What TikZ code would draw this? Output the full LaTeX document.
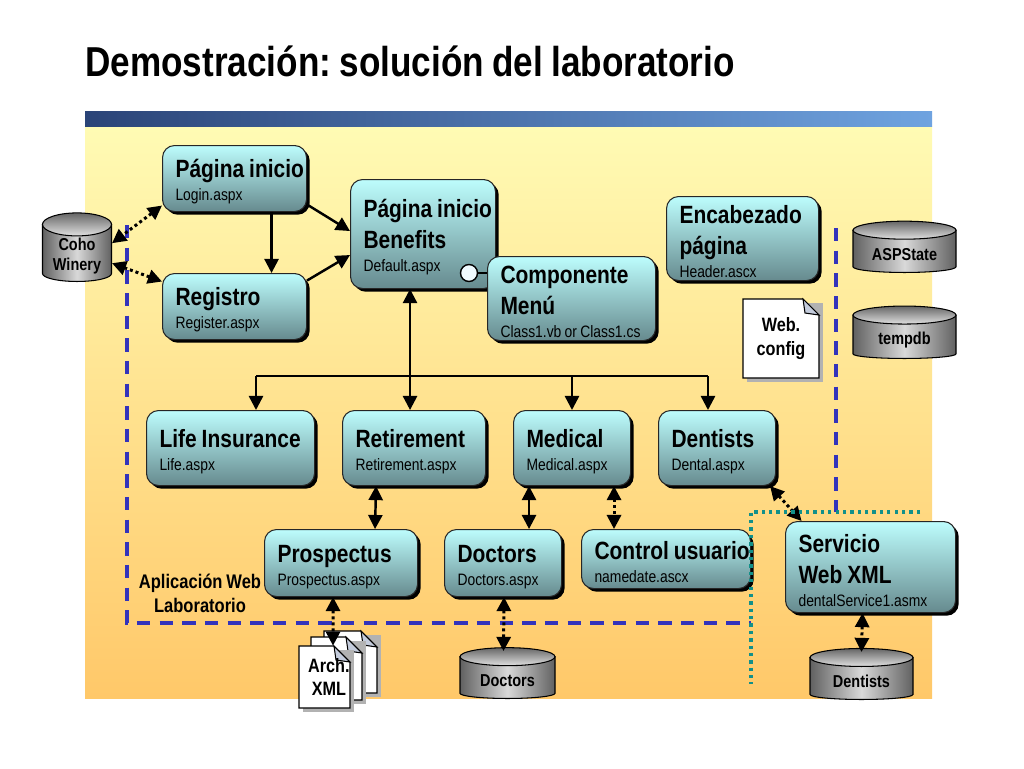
\documentclass[tikz,border=0pt]{standalone}
\usepackage{fontspec}
\setmainfont[FakeStretch=0.84,WordSpace=0.85]{Liberation Sans}
\frenchspacing
\usetikzlibrary{arrows.meta,calc,positioning,shadows,shapes.geometric}

\def\px{0.02cm}
\newcommand{\fname}[1]{\\[-4.6pt]{\fontsize{9.4}{17.6}\selectfont\mdseries #1}}

% sheet of paper with a folded corner, text on top
\newcommand{\docsheet}[6]{
  \fill[sheetshade] (#2+4,#3+4) rectangle (#2+#4+4,#3+#5+4);
  \draw[sheet] (#2,#3) -- (#2+#4-16,#3) -- (#2+#4,#3+16) -- (#2+#4,#3+#5) -- (#2,#3+#5) -- cycle;
  \draw[sheet,fill=sheetfold] (#2+#4-16,#3) -- (#2+#4-14,#3+14) -- (#2+#4,#3+16) -- cycle;
  \node[sheettext,minimum width=#4*\px,minimum height=#5*\px] (#1) at (#2+#4/2,#3+#5/2) {#6};
}

\definecolor{bgtop}{HTML}{FFFBB4}
\definecolor{bgbot}{HTML}{FFC869}
\definecolor{bandl}{HTML}{2B4478}
\definecolor{bandr}{HTML}{6FA3E0}
\definecolor{paneltop}{HTML}{BDFDFD}
\definecolor{panelbot}{HTML}{668A8E}
\definecolor{appblue}{HTML}{3333BB}
\definecolor{svcgreen}{HTML}{12908A}
\definecolor{sheetfold}{HTML}{C4CCDC}

\tikzset{
  headtip/.tip={Triangle[width=8pt,length=8pt]},
  panel/.style n args={2}{draw=black!85,line width=0.6pt,rounded corners=0.24cm,
    top color=paneltop,bottom color=panelbot,anchor=north west,
    general shadow={fill=black,shadow xshift=1.8pt,shadow yshift=-1.8pt},
    minimum width=(#1-2)*\px,minimum height=(#2-2)*\px,text width=(#1-28)*\px,
    inner xsep=13*\px,inner ysep=0pt,execute at begin node={\spaceskip=0pt\rule{0pt}{14pt}},
    font=\fontsize{14.2}{17.6}\selectfont\bfseries},
  drum/.style n args={3}{cylinder,shape border rotate=90,draw=black,line width=0.6pt,
    minimum width=#1*\px,minimum height=(#2-4)*\px,shape aspect=#3,anchor=south,
    left color=black!62,right color=black!62,middle color=black!15,
    inner sep=0pt,align=center,execute at begin node={\rule{0pt}{10.5pt}},
    font=\fontsize{9.8}{11.6}\selectfont\bfseries},
  drumcap/.style={draw=black,line width=0.6pt,top color=black!60,bottom color=black!12},
  sheet/.style={draw=black,line width=0.6pt,fill=white},
  sheetshade/.style={fill=black!30},
  sheettext/.style={inner sep=0pt,align=center,font=\fontsize{11}{13.6}\selectfont\bfseries},
  solid arrow/.style={-{headtip},line width=1.4pt},
  both arrow/.style={{headtip}-{headtip},line width=1.4pt},
  dot arrow/.style={{headtip}-{headtip},line width=1.7pt,dash pattern=on 1.7pt off 1.7pt},
  app line/.style={draw=appblue,line width=2pt,dash pattern=on 7.6pt off 5.3pt},
  svc line/.style={draw=svcgreen,line width=1.9pt,dash pattern=on 1.9pt off 2.3pt},
}

\begin{document}
\begin{tikzpicture}[x=0.02cm,y=-0.02cm]

  \useasboundingbox (0,0) rectangle (1024,768);
  \fill[white] (0,0) rectangle (1024,768);

  % slide background
  \shade[top color=bgtop,bottom color=bgbot] (85,126) rectangle (932,698);
  \shade[left color=bandl,right color=bandr] (85,111) rectangle (932,126);

  \node[anchor=west,inner sep=0pt,font=\fontsize{23.8}{28}\selectfont\bfseries] (Titulo) at (85,61)
    {Demostración: solución del laboratorio};

  % application and service borders
  \coordinate (appA) at (127,225);
  \coordinate (appB) at (127,623);
  \coordinate (appC) at (751,623);
  \coordinate (appD) at (836,228);
  \coordinate (appE) at (836,512);
  \coordinate (svcA) at (920,512);
  \coordinate (svcB) at (751,512);
  \coordinate (svcC) at (751,684);
  \draw[app line] (appA) -- (appB) -- (appC);
  \draw[app line] (appD) -- (appE);

  \node[panel={146}{68}] at (162,145)      (Login)   {\mbox{Página inicio}\fname{Login.aspx}};
  \node[panel={146}{68}] at (162,273)      (Registro) {Registro\fname{Register.aspx}};
  \node[panel={147}{111}] at (350,179)     (Benefits) {\mbox{Página inicio}\\Benefits\fname{Default.aspx}};
  \node[panel={170}{86}] at (487,256)      (Menu)    {Componente\\Menú\fname{\mbox{Class1.vb or Class1.cs}}};
  \node[panel={154}{86}] at (666,196)      (Header)  {Encabezado\\página\fname{Header.ascx}};
  \node[panel={170}{77}] at (146,410)      (Life)    {\mbox{Life Insurance}\fname{Life.aspx}};
  \node[panel={145}{77}] at (342,410)      (Retire)  {Retirement\fname{Retirement.aspx}};
  \node[panel={119}{77}] at (513,410)      (Medical) {Medical\fname{Medical.aspx}};
  \node[panel={119}{77}] at (658,410)      (Dental)  {Dentists\fname{Dental.aspx}};
  \node[panel={155}{69}] at (264,529)      (Prospect) {Prospectus\fname{Prospectus.aspx}};
  \node[panel={119}{69}] at (444,529)      (Doctors) {Doctors\fname{Doctors.aspx}};
  \node[panel={171}{61}] at (581,529)      (Control) {\mbox{Control usuario}\fname{namedate.ascx}};
  \node[panel={172}{93}] at (785,521)      (Service) {Servicio\\\mbox{Web XML}\fname{dentalService1.asmx}};

  \node[drum={69}{69}{0.33}] at (77,282)       (Coho)   {\raisebox{-1.8pt}[7pt][2pt]{Coho}\\\raisebox{-1.8pt}[7pt][2pt]{Winery}};
  \node[drum={103}{52}{0.175}] at (904.5,273)  (State)  {ASPState};
  \node[drum={103}{52}{0.175}] at (904.5,359)  (Temp)   {tempdb};
  \node[drum={95}{51}{0.19}] at (507.5,699)    (DocDb)  {Doctors};
  \node[drum={103}{51}{0.175}] at (861.5,700)  (DentDb) {Dentists};

  \foreach \d/\rx/\ry in {Coho/34.5/11.5,State/51.5/9,Temp/51.5/9,DocDb/47.5/9,DentDb/51.5/9}
    \draw[drumcap] ($(\d.before top)!0.5!(\d.after top)$) ellipse [x radius=\rx*\px,y radius=\ry*\px];

  \docsheet{Config}{743}{299}{76}{79}{Web.\\config}
  \docsheet{ArchC}{324}{631}{53}{62}{}
  \docsheet{ArchB}{311}{637}{51}{63}{}
  \docsheet{ArchA}{299}{646}{51}{62}{\hspace*{5pt}Arch.\\\hspace*{5pt}XML}

  \node[inner sep=0pt,align=center,font=\fontsize{11.2}{13.6}\selectfont\bfseries] (AppLabel) at (200,593)
    {Aplicación Web\\Laboratorio};

  % solid links
  \path ([xshift=37*\px]Login.south) edge[solid arrow] ([xshift=37*\px]Registro.north)
        ([yshift=-26*\px]Login.east)  edge[solid arrow] ([yshift=3*\px]Benefits.west)
        ([yshift=26*\px]Registro.east) edge[solid arrow] ([yshift=-21*\px]Benefits.west)
        ([xshift=-13*\px]Benefits.south) edge[both arrow] ([xshift=-4*\px]Retire.north);

  \coordinate (busL) at (256,376);
  \coordinate (busM) at (572,376);
  \coordinate (busR) at (708,376);
  \draw[line width=1.4pt] (busL) -- (busR);
  \path (busL) edge[solid arrow] (busL |- Life.north)
        (busM) edge[solid arrow] (busM |- Medical.north)
        (busR) edge[solid arrow] (busR |- Dental.north);

  \path ([xshift=-38*\px]Retire.south) edge[both arrow] ([xshift=34*\px]Prospect.north)
        ([xshift=-43*\px]Medical.south) edge[both arrow] ([xshift=26*\px]Doctors.north);

  % dotted links
  \path ([yshift=-27*\px]Login.west) edge[dot arrow] ([yshift=10*\px]Coho.east)
        ([yshift=25*\px]Registro.west) edge[dot arrow] ([yshift=-10*\px]Coho.east)
        ([xshift=42*\px]Medical.south) edge[dot arrow] ([xshift=-52*\px]Control.north)
        ([xshift=53*\px]Dental.south) edge[dot arrow] ([xshift=-69*\px]Service.north)
        ([xshift=-8*\px]Prospect.south) edge[dot arrow] ([xshift=8.5*\px]ArchA.north)
        ([xshift=1*\px]Doctors.south) edge[dot arrow] ([xshift=-4*\px]DocDb.north)
        ([xshift=-8*\px]Service.south) edge[dot arrow] (DentDb.north);

  % component socket
  \node[circle,draw=black,line width=0.8pt,fill=cyan!6,inner sep=0pt,minimum size=17*\px] (Socket) at (469,273) {};
  \draw[line width=1.6pt] (Socket) -- (Menu.west |- Socket);

  \draw[svc line] (svcA) -- (svcB) -- (svcC);

\end{tikzpicture}
\end{document}
